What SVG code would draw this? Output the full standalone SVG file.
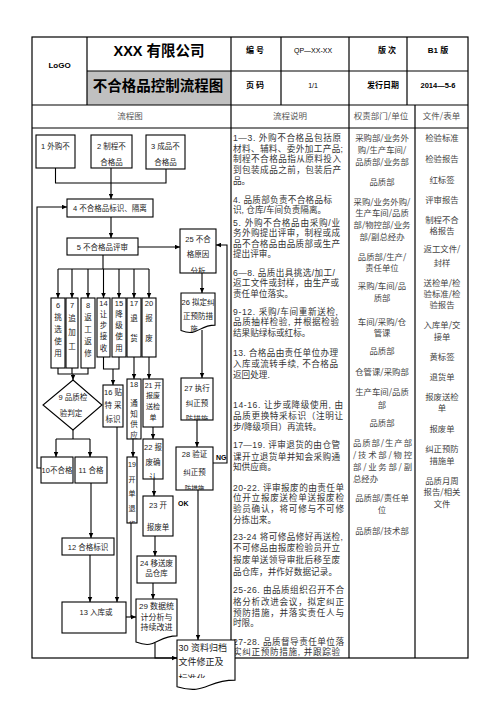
<svg xmlns="http://www.w3.org/2000/svg" width="496" height="702" viewBox="0 0 496 702">
<defs>
<marker id="ah" viewBox="0 0 10 10" refX="10" refY="5" markerWidth="5" markerHeight="5" orient="auto" markerUnits="userSpaceOnUse"><path d="M0,0.5 L10,5 L0,9.5 z" fill="#000"/></marker>
<clipPath id="c1"><rect x="36" y="135" width="39" height="33"/></clipPath>
<clipPath id="c25"><rect x="180" y="229" width="36" height="44"/></clipPath>
<clipPath id="c26"><path d="M181,293 H215 V325.1 C198,325.1 198,337.3 181,330.4 Z"/></clipPath>
<clipPath id="c27"><rect x="181" y="378" width="32" height="42"/></clipPath>
<clipPath id="c28"><rect x="176" y="447" width="37" height="43"/></clipPath>
<clipPath id="c18"><rect x="127" y="379" width="14" height="60"/></clipPath>
<clipPath id="c19"><rect x="127" y="457" width="10" height="66"/></clipPath>
<clipPath id="c22"><rect x="143" y="439" width="20" height="40"/></clipPath>
<clipPath id="c30"><rect x="177" y="640" width="58" height="38"/></clipPath>
<clipPath id="ctab"><rect x="0" y="0" width="496" height="657"/></clipPath>
</defs>
<style>
.ln{stroke:#000;stroke-width:1.1;fill:none}
.ar{stroke:#000;stroke-width:1.1;fill:none;marker-end:url(#ah)}
.bx{fill:#fff;stroke:#000;stroke-width:1.1}
.tb{stroke:#000;stroke-width:1.2;fill:none}
.t{font-family:"Liberation Sans","Noto Sans CJK SC",sans-serif;font-size:7.5px;fill:#1a1a1a;text-anchor:middle}
.hb{font-family:"Liberation Sans","Noto Sans CJK SC",sans-serif;font-weight:bold;fill:#000;text-anchor:middle}
.h3{font-family:"Noto Sans CJK SC",sans-serif;font-size:8.5px;fill:#555;text-anchor:middle}
.d{font-family:"Liberation Sans","Noto Sans CJK SC",sans-serif;font-size:8.6px;fill:#333}
.r{font-family:"Noto Sans CJK SC",sans-serif;font-size:8.4px;fill:#444;text-anchor:middle}
.rl{font-family:"Noto Sans CJK SC",sans-serif;font-size:8.4px;fill:#444}
.lb{font-family:"Liberation Sans",sans-serif;font-size:7px;font-weight:bold;fill:#000}
</style>
<rect width="496" height="702" fill="#fff"/>

<g id="table">
<rect x="87" y="71" width="144" height="34" fill="#c0c0c0"/>
<rect class="tb" x="32" y="37" width="436" height="621"/>
<line class="tb" x1="87" y1="71" x2="468" y2="71"/>
<line class="tb" x1="32" y1="105" x2="468" y2="105"/>
<line class="tb" x1="32" y1="128" x2="468" y2="128"/>
<line class="tb" x1="87" y1="37" x2="87" y2="105"/>
<line class="tb" x1="231" y1="37" x2="231" y2="658"/>
<line class="tb" x1="281" y1="37" x2="281" y2="105"/>
<line class="tb" x1="349" y1="37" x2="349" y2="658"/>
<line class="tb" x1="407" y1="37" x2="407" y2="105"/>
<line class="tb" x1="415" y1="105" x2="415" y2="658"/>
<text class="hb" x="59.5" y="68" style="font-size:8px;font-weight:600">LoGO</text>
<text class="hb" x="159" y="55.5" style="font-size:14.5px">XXX 有限公司</text>
<text class="hb" x="158" y="90.5" style="font-size:14.5px">不合格品控制流程图</text>
<text class="hb" x="255" y="53" style="font-size:8px">编 号</text>
<text class="hb" x="313" y="53" style="font-size:7px;font-weight:normal">QP—XX-XX</text>
<text class="hb" x="387" y="53" style="font-size:8px">版  次</text>
<text class="hb" x="438" y="53" style="font-size:8px">B1 版</text>
<text class="hb" x="255" y="88" style="font-size:8px">页 码</text>
<text class="hb" x="313" y="88" style="font-size:7px;font-weight:normal">1/1</text>
<text class="hb" x="383" y="88" style="font-size:8px">发行日期</text>
<text class="hb" x="438" y="88" style="font-size:7.5px">2014—5-6</text>
<text class="h3" x="130" y="118.5">流程图</text>
<text class="h3" x="290" y="118.5">流程说明</text>
<text class="h3" x="381" y="118.5">权责部门/单位</text>
<text class="h3" x="441.5" y="118.5">文件/表单</text>
</g>

<g id="description">
<text class="d" x="233" y="141" textLength="108" lengthAdjust="spacing">1—3. 外购不合格品包括原</text>
<text class="d" x="233" y="151.7" textLength="110" lengthAdjust="spacing">材料、辅料、委外加工产品;</text>
<text class="d" x="233" y="162.4" textLength="108" lengthAdjust="spacing">制程不合格品指从原料投入</text>
<text class="d" x="233" y="173.1" textLength="108" lengthAdjust="spacing">到包装成品之前，包装后产</text>
<text class="d" x="233" y="183.8">品。</text>
<text class="d" x="233" y="202.5" textLength="99" lengthAdjust="spacing">4. 品质部负责不合格品标</text>
<text class="d" x="233" y="213">识, 仓库/车间负责隔离。</text>
<text class="d" x="233" y="225.5" textLength="107" lengthAdjust="spacing">5. 外购不合格品由采购/业</text>
<text class="d" x="233" y="236" textLength="107" lengthAdjust="spacing">务外购提出评审，制程或成</text>
<text class="d" x="233" y="246.5" textLength="107" lengthAdjust="spacing">品不合格品由品质部或生产</text>
<text class="d" x="233" y="257">提出评审。</text>
<text class="d" x="233" y="275.5" textLength="102" lengthAdjust="spacing">6—8. 品质出具挑选/加工/</text>
<text class="d" x="233" y="286" textLength="106" lengthAdjust="spacing">返工文件或封样，由生产或</text>
<text class="d" x="233" y="296.5">责任单位落实。</text>
<text class="d" x="233" y="314.7" textLength="105" lengthAdjust="spacing">9-12. 采购/车间重新送检,</text>
<text class="d" x="233" y="325.3" textLength="106" lengthAdjust="spacing">品质抽样检验, 并根据检验</text>
<text class="d" x="233" y="335.8">结果贴绿标或红标。</text>
<text class="d" x="233" y="356.3" textLength="105" lengthAdjust="spacing">13. 合格品由责任单位办理</text>
<text class="d" x="233" y="367" textLength="105" lengthAdjust="spacing">入库或流转手续, 不合格品</text>
<text class="d" x="233" y="377.5">返回处理.</text>
<text class="d" x="233" y="408" textLength="110" lengthAdjust="spacing">14-16. 让步或降级使用, 由</text>
<text class="d" x="233" y="418.7" textLength="110" lengthAdjust="spacing">品质更换特采标识（注明让</text>
<text class="d" x="233" y="429.5">步/降级项目）再流转。</text>
<text class="d" x="233" y="448" textLength="107" lengthAdjust="spacing">17—19. 评审退货的由仓管</text>
<text class="d" x="233" y="459.5" textLength="107" lengthAdjust="spacing">课开立退货单并知会采购通</text>
<text class="d" x="233" y="470.3">知供应商。</text>
<text class="d" x="233" y="490.7" textLength="111" lengthAdjust="spacing">20-22. 评审报废的由责任单</text>
<text class="d" x="233" y="501.3" textLength="111" lengthAdjust="spacing">位开立报废送检单送报废检</text>
<text class="d" x="233" y="512" textLength="111" lengthAdjust="spacing">验员确认，将可修与不可修</text>
<text class="d" x="233" y="522.7">分拣出来。</text>
<text class="d" x="233" y="539.7" textLength="110" lengthAdjust="spacing">23-24 将可修品修好再送检,</text>
<text class="d" x="233" y="551.3" textLength="107" lengthAdjust="spacing">不可修品由报废检验员开立</text>
<text class="d" x="233" y="563" textLength="107" lengthAdjust="spacing">报废单送领导审批后移至废</text>
<text class="d" x="233" y="574.7" textLength="104" lengthAdjust="spacing">品仓库，并作好数据记录。</text>
<text class="d" x="233" y="593" textLength="111" lengthAdjust="spacing">25-26. 由品质组织召开不合</text>
<text class="d" x="233" y="604.5" textLength="111" lengthAdjust="spacing">格分析改进会议，拟定纠正</text>
<text class="d" x="233" y="615.7" textLength="111" lengthAdjust="spacing">预防措施，并落实责任人与</text>
<text class="d" x="233" y="626.3">时限。</text>
<text class="d" x="233" y="644.7" textLength="111" lengthAdjust="spacing">27-28. 品质督导责任单位落</text>
<text class="d" x="233" y="655.3" textLength="107" lengthAdjust="spacing" clip-path="url(#ctab)">实纠正预防措施, 并跟踪验</text>
</g>

<g id="responsibility">
<text class="r" x="382" y="141.3">采购部/业务外</text>
<text class="r" x="382" y="153">购/生产车间/</text>
<text class="r" x="382" y="164.7">品质部/业务部</text>
<text class="r" x="382" y="184.7">品质部</text>
<text class="r" x="382" y="204.7">采购/业务外购/</text>
<text class="r" x="382" y="216.3">生产车间/品质</text>
<text class="r" x="382" y="228">部/物控部/业务</text>
<text class="r" x="382" y="239.5">部/副总经办</text>
<text class="r" x="382" y="259.7">品质部/生产/</text>
<text class="r" x="382" y="271">责任单位</text>
<text class="r" x="382" y="289">采购/车间/品</text>
<text class="r" x="382" y="301">质部</text>
<text class="r" x="382" y="324.7">车间/采购/仓</text>
<text class="r" x="382" y="336">管课</text>
<text class="r" x="382" y="353.5">品质部</text>
<text class="r" x="382" y="374.7">仓管课/采购部</text>
<text class="r" x="382" y="394.7">生产车间/品质</text>
<text class="r" x="382" y="408.3">部</text>
<text class="r" x="382" y="426.3">品质部</text>
<text class="rl" x="353" y="446.3" textLength="59" lengthAdjust="spacing">品质部/生产部</text>
<text class="rl" x="353" y="458" textLength="59" lengthAdjust="spacing">/技术部/物控</text>
<text class="rl" x="353" y="469.7" textLength="59" lengthAdjust="spacing">部/业务部/副</text>
<text class="rl" x="353" y="482.3">总经办</text>
<text class="r" x="382" y="501.3">品质部/责任单</text>
<text class="r" x="382" y="513">位</text>
<text class="r" x="382" y="533.7">品质部/技术部</text>
</g>

<g id="documents">
<text class="r" x="442" y="141.3">检验标准</text>
<text class="r" x="442" y="162">检验报告</text>
<text class="r" x="442" y="183">红标签</text>
<text class="r" x="442" y="202.5">评审报告</text>
<text class="r" x="442" y="222.5">制程不合</text>
<text class="r" x="442" y="233.7">格报告</text>
<text class="r" x="442" y="251.5">返工文件/</text>
<text class="r" x="442" y="266">封样</text>
<text class="r" x="442" y="286">送检单/检</text>
<text class="r" x="442" y="297.3">验标准/检</text>
<text class="r" x="442" y="308.3">验报告</text>
<text class="r" x="442" y="328.3">入库单/交</text>
<text class="r" x="442" y="340">接单</text>
<text class="r" x="442" y="360">黄标签</text>
<text class="r" x="442" y="380">退货单</text>
<text class="r" x="442" y="400">报废送检</text>
<text class="r" x="442" y="411.3">单</text>
<text class="r" x="442" y="432.3">报废单</text>
<text class="r" x="442" y="452.3">纠正预防</text>
<text class="r" x="442" y="464">措施单</text>
<text class="r" x="442" y="484">品质月周</text>
<text class="r" x="442" y="495.3">报告/相关</text>
<text class="r" x="442" y="506.5">文件</text>
</g>

<g id="n1"><rect class="bx" x="36" y="135" width="39" height="33"/><text class="t" x="55.5" y="148.5" clip-path="url(#c1)">1 外购不</text></g>
<g id="n2"><rect class="bx" x="91" y="135" width="41" height="33"/><text class="t" x="111.5" y="148.5">2 制程不</text><text class="t" x="111.5" y="165">合格品</text></g>
<g id="n3"><rect class="bx" x="146" y="135" width="39" height="34"/><text class="t" x="165.5" y="148.5">3 成品不</text><text class="t" x="165.5" y="165">合格品</text></g>
<g id="n4"><rect class="bx" x="67" y="199" width="86" height="18"/><text class="t" x="110" y="211">4 不合格品标识、隔离</text></g>
<g id="n5"><rect class="bx" x="67" y="238" width="71" height="17"/><text class="t" x="102.5" y="249.5">5 不合格品评审</text></g>
<g id="n6"><rect class="bx" x="51" y="298" width="14" height="70"/><text class="t"><tspan x="58" y="308">6</tspan><tspan x="58" y="320">挑</tspan><tspan x="58" y="332">选</tspan><tspan x="58" y="344">使</tspan><tspan x="58" y="356">用</tspan></text></g>
<g id="n7"><rect class="bx" x="66" y="298" width="12" height="70"/><text class="t"><tspan x="72" y="308">7</tspan><tspan x="72" y="321">追</tspan><tspan x="72" y="335">加</tspan><tspan x="72" y="349">工</tspan></text></g>
<g id="n8"><rect class="bx" x="81" y="298" width="14" height="70"/><text class="t"><tspan x="88" y="308">8</tspan><tspan x="88" y="320">返</tspan><tspan x="88" y="332">工</tspan><tspan x="88" y="344">返</tspan><tspan x="88" y="356">修</tspan></text></g>
<g id="n14"><rect class="bx" x="97" y="298" width="13" height="59"/><text class="t"><tspan x="103.5" y="306">14</tspan><tspan x="103.5" y="317">让</tspan><tspan x="103.5" y="328">步</tspan><tspan x="103.5" y="339">接</tspan><tspan x="103.5" y="350.5">收</tspan></text></g>
<g id="n15"><rect class="bx" x="112" y="298" width="14" height="59"/><text class="t"><tspan x="119" y="306">15</tspan><tspan x="119" y="317">降</tspan><tspan x="119" y="328">级</tspan><tspan x="119" y="339">使</tspan><tspan x="119" y="350.5">用</tspan></text></g>
<g id="n17"><rect class="bx" x="127" y="298" width="14" height="59"/><text class="t"><tspan x="134" y="306">17</tspan><tspan x="134" y="321">退</tspan><tspan x="134" y="341">货</tspan></text></g>
<g id="n20"><rect class="bx" x="142" y="298" width="14" height="59"/><text class="t"><tspan x="149" y="306">20</tspan><tspan x="149" y="321">报</tspan><tspan x="149" y="341">废</tspan></text></g>
<g id="n9"><polygon class="bx" points="73,380 102,405 73,430 43,405"/><text class="t" x="73" y="400">9 品质检</text><text class="t" x="71" y="416">验判定</text></g>
<g id="n10"><rect class="bx" x="41" y="457" width="32" height="26"/><text class="t" x="57" y="473">10不合格</text></g>
<g id="n11"><rect class="bx" x="75" y="457" width="32" height="26"/><text class="t" x="91" y="473">11 合格</text></g>
<g id="n12"><rect class="bx" x="62" y="538" width="52" height="17"/><text class="t" x="88" y="549.5">12 合格标识</text></g>
<g id="n13"><rect class="bx" x="62" y="602" width="64" height="31"/><text class="t" x="96" y="615">13 入库或</text></g>
<g id="n16"><rect class="bx" x="103" y="385" width="20" height="42"/><text class="t" x="113" y="395">16 贴</text><text class="t" x="113" y="407.5">特 采</text><text class="t" x="113" y="421.5">标识</text></g>
<g id="n18"><rect class="bx" x="127" y="379" width="14" height="60"/><text class="t" clip-path="url(#c18)"><tspan x="134" y="387">18</tspan><tspan x="134" y="406">通</tspan><tspan x="134" y="416.5">知</tspan><tspan x="134" y="427">供</tspan><tspan x="134" y="438">应</tspan></text></g>
<g id="n19"><rect class="bx" x="127" y="457" width="10" height="66"/><text class="t" style="font-size:7px" clip-path="url(#c19)"><tspan x="132" y="467">19</tspan><tspan x="132" y="482">开</tspan><tspan x="132" y="496">单</tspan><tspan x="132" y="511">退</tspan><tspan x="132" y="526.5">货</tspan></text></g>
<g id="n21"><rect class="bx" x="143" y="379" width="20" height="48"/><text class="t" style="font-size:7px"><tspan x="153" y="388">21 开</tspan><tspan x="153" y="398">报废</tspan><tspan x="153" y="409">送检</tspan><tspan x="153" y="420">单</tspan></text></g>
<g id="n22"><rect class="bx" x="143" y="439" width="20" height="40"/><text class="t" clip-path="url(#c22)"><tspan x="153" y="450">22 报</tspan><tspan x="153" y="465">废确</tspan><tspan x="153" y="480">认</tspan></text></g>
<g id="n23"><rect class="bx" x="143" y="496" width="30" height="40"/><text class="t" x="158" y="508">23 开</text><text class="t" x="158" y="530">报废单</text></g>
<g id="n24"><rect class="bx" x="137" y="556" width="39" height="27"/><text class="t" x="156.5" y="565.5">24 移送废</text><text class="t" x="156.5" y="576">品仓库</text></g>
<g id="n29"><path class="bx" d="M136,599 H177 V635.9 C156.5,635.9 156.5,650 136,642 Z"/><text class="t" style="font-size:8px" x="156.5" y="608.5">29 数据统</text><text class="t" style="font-size:8px" x="156.5" y="619.5">计分析与</text><text class="t" style="font-size:8px" x="156.5" y="630">持续改进</text></g>
<g id="n25"><rect class="bx" x="180" y="229" width="36" height="44"/><g clip-path="url(#c25)"><text class="t" x="198" y="241.5">25 不合</text><text class="t" x="198" y="256.5">格原因</text><text class="t" x="198" y="274">分析</text></g></g>
<g id="n26"><path class="bx" d="M181,293 H215 V325.1 C198,325.1 198,337.3 181,330.4 Z"/><g clip-path="url(#c26)"><text class="t" x="198" y="305">26 拟定纠</text><text class="t" x="198" y="318.5">正预防措</text><text class="t" x="194" y="332">施</text></g></g>
<g id="n27"><rect class="bx" x="181" y="378" width="32" height="42"/><g clip-path="url(#c27)"><text class="t" x="197" y="391">27 执行</text><text class="t" x="197" y="406">纠正预</text><text class="t" x="197" y="422">防措施</text></g></g>
<g id="n28"><rect class="bx" x="176" y="447" width="37" height="43"/><g clip-path="url(#c28)"><text class="t" x="194.5" y="456.5">28 验证</text><text class="t" x="194.5" y="475">纠正预</text><text class="t" x="194.5" y="490.5" style="font-size:6.5px">防措施</text></g></g>
<g id="n30"><path class="bx" d="M177,640 H235 V680.1 C206,680.1 206,695.4 177,686.7 Z"/><g clip-path="url(#c30)"><text class="t" style="font-size:9px;text-anchor:start" x="178.5" y="651">30 资料归档</text><text class="t" style="font-size:9px;text-anchor:start" x="178.5" y="665">文件修正及</text><text class="t" style="font-size:9px;text-anchor:start" x="178.5" y="682">标准化</text></g></g>

<g id="connectors">
<path class="ln" d="M55.5,168 V183 H166 V169"/>
<path class="ar" d="M111,168 V199"/>
<path class="ar" d="M111,217 V238"/>
<path class="ar" d="M138,247 H180"/>
<path class="ln" d="M103,255 V269 M58,269 H149"/>
<path class="ar" d="M58,269 V298"/>
<path class="ar" d="M72,269 V298"/>
<path class="ar" d="M88,269 V298"/>
<path class="ar" d="M103.5,269 V298"/>
<path class="ar" d="M119,269 V298"/>
<path class="ar" d="M134,269 V298"/>
<path class="ar" d="M149,269 V298"/>
<path class="ln" d="M58,368 V374 H88 V368 M72,368 V374"/>
<path class="ar" d="M73,374 V380"/>
<path class="ln" d="M103.5,357 V369 H119 V357"/>
<path class="ar" d="M113,369 V385"/>
<path class="ar" d="M134,357 V379"/>
<path class="ar" d="M149,357 V379"/>
<path class="ln" d="M73,430 V439 M56,439 H90"/>
<path class="ar" d="M56,439 V457"/>
<path class="ar" d="M90,439 V457"/>
<path class="ar" d="M41,468 H37 V207 H67"/>
<path class="ar" d="M91,483 V538"/>
<path class="ar" d="M90,555 V602"/>
<path class="ar" d="M117,427 V602"/>
<path class="ar" d="M133,439 V457"/>
<path class="ln" d="M131,523 V617"/>
<path class="ar" d="M126,617 H136"/>
<path class="ar" d="M153,427 V439"/>
<path class="ar" d="M154,479 V496"/>
<path class="ar" d="M155,536 V556"/>
<path class="ar" d="M153,583 V599"/>
<path class="ar" d="M155,643 V658 H177"/>
<path class="ar" d="M202,273 V293"/>
<path class="ar" d="M202,330 V378"/>
<path class="ar" d="M197,420 V447"/>
<path class="ar" d="M198,490 V640"/>
<path class="ar" d="M213,463 H227 V245 H216"/>
<text class="lb" x="216" y="460">NG</text>
<text class="lb" x="178" y="506">OK</text>
</g>
</svg>
